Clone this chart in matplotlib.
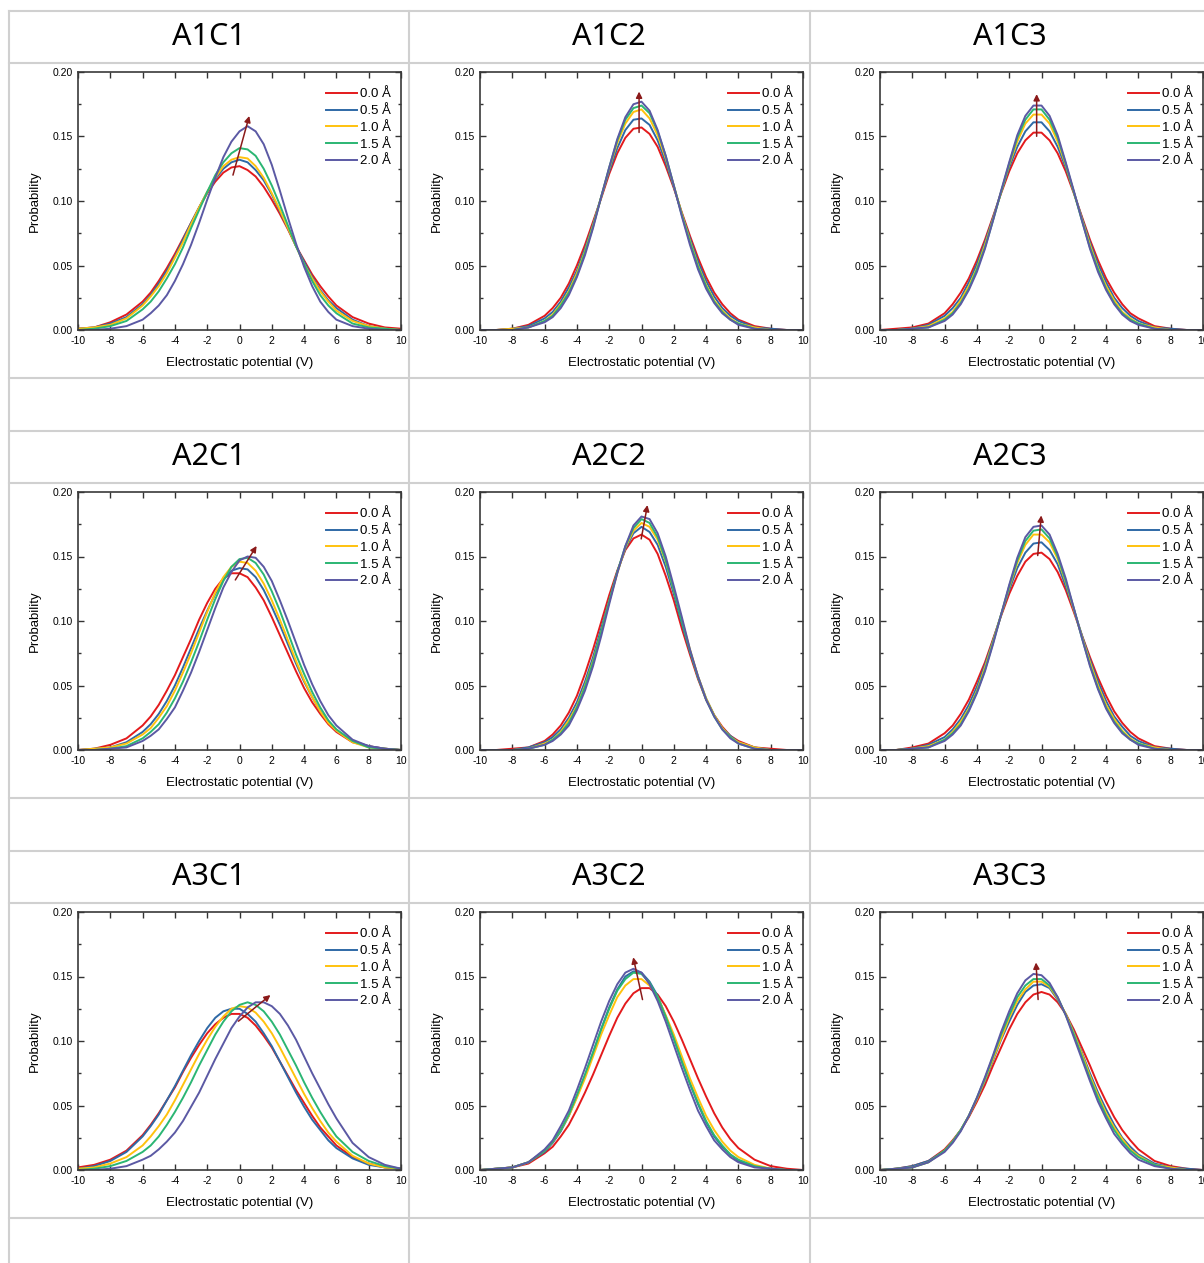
import matplotlib.pyplot as plt
from matplotlib.lines import Line2D
from matplotlib.ticker import MultipleLocator, FormatStrFormatter

W, H = 1204, 1263

titles = ['A1C1', 'A1C2', 'A1C3', 'A2C1', 'A2C2', 'A2C3', 'A3C1', 'A3C2', 'A3C3']
labels = ['0.0 Å', '0.5 Å', '1.0 Å', '1.5 Å', '2.0 Å']
colors = ['#e31a1c', '#2f69a6', '#ffc20e', '#2bb673', '#5b59a4']

# electrostatic potential (V) where the curves were read
pot = [-10, -9, -8, -7, -6, -5.5, -5, -4.5, -4, -3.5, -3, -2.5, -2, -1.5, -1, -0.5, 0,
       0.5, 1, 1.5, 2, 2.5, 3, 3.5, 4, 4.5, 5, 5.5, 6, 7, 8, 9, 10]

# probability x 1000, one row per spacing (0.0 .. 2.0 A)
a1c1 = [
    [1, 2, 6, 12, 22, 29, 38, 48, 59, 71, 83, 95, 106, 115, 122, 126, 127, 124, 119, 111, 101, 90, 78, 65, 54, 43, 34, 26, 19, 10, 5, 2, 1],
    [1, 2, 5, 10, 20, 27, 36, 46, 57, 70, 83, 95, 107, 117, 125, 130, 132, 130, 124, 116, 105, 92, 79, 65, 53, 41, 31, 23, 17, 8, 3, 1, 0],
    [1, 2, 4, 9, 19, 26, 34, 44, 56, 68, 82, 95, 107, 118, 127, 132, 134, 133, 127, 118, 106, 93, 79, 65, 51, 40, 30, 22, 15, 7, 3, 1, 0],
    [0, 1, 3, 7, 16, 22, 30, 40, 51, 64, 79, 93, 107, 120, 130, 137, 141, 140, 135, 125, 112, 97, 81, 65, 51, 38, 27, 19, 13, 5, 2, 1, 0],
    [0, 0, 1, 3, 8, 13, 19, 27, 38, 51, 66, 83, 101, 118, 134, 146, 154, 158, 154, 144, 128, 108, 87, 67, 49, 34, 22, 14, 8, 3, 1, 0, 0],
]
a1c2 = [
    [0, 0, 1, 4, 11, 17, 25, 36, 50, 66, 84, 102, 121, 137, 149, 156, 157, 152, 142, 127, 110, 91, 73, 56, 41, 29, 20, 13, 8, 3, 1, 0, 0],
    [0, 0, 1, 3, 9, 14, 22, 33, 46, 63, 82, 103, 123, 141, 155, 163, 164, 159, 147, 130, 111, 90, 71, 53, 38, 26, 17, 11, 7, 2, 1, 0, 0],
    [0, 0, 1, 2, 7, 12, 20, 30, 44, 61, 81, 103, 125, 145, 160, 169, 171, 164, 151, 133, 112, 90, 69, 50, 35, 23, 15, 9, 5, 2, 0, 0, 0],
    [0, 0, 0, 2, 7, 11, 19, 29, 42, 60, 80, 103, 126, 147, 163, 172, 174, 168, 154, 135, 112, 89, 68, 49, 34, 22, 14, 8, 5, 1, 0, 0, 0],
    [0, 0, 0, 2, 6, 10, 17, 27, 41, 58, 79, 103, 126, 148, 165, 175, 177, 170, 155, 135, 112, 88, 66, 47, 32, 21, 13, 8, 4, 1, 0, 0, 0],
]
a1c3 = [
    [0, 1, 2, 5, 13, 20, 29, 40, 54, 70, 88, 106, 123, 137, 147, 153, 153, 147, 137, 123, 106, 88, 70, 54, 40, 29, 20, 13, 9, 3, 1, 0, 0],
    [0, 0, 1, 4, 11, 17, 25, 37, 51, 68, 87, 107, 126, 142, 154, 161, 161, 154, 142, 126, 107, 87, 68, 51, 37, 25, 17, 11, 7, 2, 1, 0, 0],
    [0, 0, 1, 3, 9, 14, 23, 34, 48, 66, 86, 107, 128, 146, 160, 167, 167, 160, 146, 128, 107, 86, 66, 48, 34, 23, 14, 9, 5, 2, 0, 0, 0],
    [0, 0, 1, 2, 8, 13, 21, 32, 47, 64, 85, 107, 129, 149, 163, 171, 171, 163, 149, 129, 107, 85, 64, 47, 32, 21, 13, 8, 5, 1, 0, 0, 0],
    [0, 0, 1, 2, 7, 12, 20, 31, 45, 63, 85, 108, 130, 151, 166, 174, 174, 166, 151, 130, 108, 85, 63, 45, 31, 20, 12, 7, 4, 1, 0, 0, 0],
]
a2c1 = [
    [0, 1, 4, 9, 19, 26, 35, 46, 58, 72, 86, 101, 114, 125, 133, 137, 137, 134, 126, 116, 103, 89, 75, 61, 48, 37, 28, 20, 14, 6, 3, 1, 0],
    [0, 1, 2, 6, 14, 20, 28, 38, 50, 64, 79, 94, 108, 121, 132, 139, 141, 140, 134, 124, 111, 97, 82, 67, 53, 41, 30, 22, 15, 7, 3, 1, 0],
    [0, 1, 2, 5, 12, 17, 25, 34, 46, 60, 75, 91, 107, 122, 134, 142, 146, 145, 139, 129, 116, 101, 85, 69, 54, 41, 30, 21, 15, 6, 2, 1, 0],
    [0, 0, 1, 3, 9, 14, 20, 29, 40, 53, 68, 84, 101, 117, 131, 142, 148, 149, 145, 136, 123, 108, 91, 74, 59, 45, 33, 23, 16, 7, 2, 1, 0],
    [0, 0, 1, 2, 7, 11, 16, 24, 33, 46, 60, 76, 93, 110, 126, 138, 147, 150, 149, 142, 131, 116, 100, 83, 66, 51, 38, 27, 19, 8, 3, 1, 0],
]
a2c2 = [
    [0, 0, 1, 2, 7, 12, 19, 29, 42, 59, 78, 99, 120, 139, 155, 164, 167, 163, 152, 135, 116, 94, 74, 55, 39, 27, 18, 11, 7, 2, 1, 0, 0],
    [0, 0, 0, 2, 6, 10, 16, 25, 37, 53, 72, 94, 116, 138, 156, 168, 173, 169, 159, 142, 121, 98, 76, 57, 40, 27, 17, 11, 6, 2, 0, 0, 0],
    [0, 0, 0, 1, 5, 8, 14, 23, 34, 50, 69, 91, 115, 137, 157, 170, 176, 173, 163, 146, 124, 101, 78, 57, 40, 27, 17, 10, 6, 2, 0, 0, 0],
    [0, 0, 0, 1, 4, 8, 13, 21, 33, 49, 68, 91, 115, 138, 158, 172, 179, 176, 165, 147, 124, 100, 77, 56, 39, 26, 16, 10, 5, 1, 0, 0, 0],
    [0, 0, 0, 1, 4, 7, 12, 19, 31, 46, 65, 88, 113, 137, 158, 174, 181, 179, 168, 150, 127, 103, 78, 57, 39, 26, 16, 9, 5, 1, 0, 0, 0],
]
a2c3 = [
    [0, 0, 2, 5, 13, 19, 28, 39, 53, 68, 86, 104, 121, 135, 146, 152, 153, 148, 138, 124, 107, 89, 72, 56, 42, 30, 21, 14, 9, 3, 1, 0, 0],
    [0, 0, 1, 4, 10, 16, 24, 35, 49, 66, 85, 105, 124, 141, 153, 160, 161, 155, 144, 127, 109, 89, 70, 53, 38, 26, 18, 11, 7, 2, 1, 0, 0],
    [0, 0, 1, 3, 8, 14, 22, 32, 46, 64, 84, 105, 126, 145, 159, 167, 167, 161, 148, 130, 109, 88, 68, 50, 35, 24, 15, 9, 5, 2, 0, 0, 0],
    [0, 0, 1, 2, 8, 13, 20, 31, 45, 62, 83, 105, 127, 147, 162, 170, 171, 164, 150, 131, 110, 87, 66, 48, 33, 22, 14, 8, 5, 1, 0, 0, 0],
    [0, 0, 1, 2, 7, 12, 19, 30, 44, 61, 82, 105, 128, 149, 165, 173, 174, 167, 152, 133, 110, 87, 65, 47, 32, 21, 13, 8, 4, 1, 0, 0, 0],
]
a3c1 = [
    [2, 4, 8, 15, 27, 35, 44, 54, 64, 76, 87, 97, 106, 113, 118, 121, 121, 118, 112, 104, 95, 84, 73, 62, 52, 42, 33, 26, 19, 10, 5, 2, 1],
    [1, 3, 7, 14, 26, 34, 43, 54, 65, 77, 89, 100, 110, 118, 123, 125, 125, 121, 115, 106, 96, 84, 72, 60, 49, 39, 31, 23, 17, 9, 4, 2, 1],
    [1, 2, 5, 10, 19, 26, 34, 43, 54, 66, 78, 90, 101, 111, 119, 125, 127, 126, 122, 115, 106, 95, 83, 71, 59, 48, 38, 29, 22, 11, 5, 2, 1],
    [0, 1, 3, 7, 14, 19, 26, 35, 45, 56, 68, 81, 93, 105, 115, 123, 128, 130, 128, 123, 115, 105, 93, 81, 68, 56, 45, 35, 26, 14, 7, 3, 1],
    [0, 0, 1, 3, 8, 11, 16, 22, 29, 38, 49, 60, 73, 86, 98, 110, 119, 126, 130, 130, 127, 121, 112, 101, 88, 75, 63, 51, 40, 21, 10, 4, 1],
]
a3c2 = [
    [0, 1, 2, 5, 13, 18, 26, 35, 47, 60, 74, 89, 104, 118, 129, 137, 141, 141, 136, 127, 115, 101, 86, 71, 57, 44, 33, 24, 17, 8, 3, 1, 0],
    [0, 1, 2, 6, 14, 21, 30, 42, 57, 73, 91, 109, 126, 140, 150, 154, 153, 146, 135, 119, 102, 84, 67, 51, 37, 26, 18, 12, 7, 3, 1, 0, 0],
    [0, 1, 2, 6, 15, 22, 31, 42, 56, 71, 88, 105, 120, 134, 143, 148, 148, 143, 134, 120, 105, 88, 71, 56, 42, 31, 22, 15, 10, 4, 1, 0, 0],
    [0, 1, 2, 6, 15, 22, 31, 43, 58, 74, 91, 109, 125, 139, 148, 153, 152, 145, 134, 119, 102, 84, 67, 52, 38, 27, 19, 12, 8, 3, 1, 0, 0],
    [0, 1, 2, 6, 16, 23, 34, 46, 62, 79, 97, 115, 131, 144, 153, 156, 153, 144, 131, 115, 97, 79, 62, 46, 34, 23, 16, 10, 6, 2, 1, 0, 0],
]
a3c3 = [
    [0, 1, 3, 7, 16, 23, 31, 41, 53, 66, 81, 95, 109, 121, 130, 136, 138, 136, 130, 121, 109, 95, 81, 66, 53, 41, 31, 23, 16, 7, 3, 1, 0],
    [0, 1, 3, 7, 15, 22, 31, 42, 55, 69, 85, 101, 115, 128, 138, 143, 144, 141, 132, 121, 107, 91, 75, 60, 47, 35, 25, 18, 12, 5, 2, 1, 0],
    [0, 1, 2, 6, 15, 22, 31, 42, 55, 70, 86, 102, 118, 131, 140, 146, 146, 142, 133, 121, 106, 90, 73, 58, 44, 33, 24, 16, 11, 4, 2, 0, 0],
    [0, 1, 2, 6, 15, 22, 31, 42, 56, 71, 88, 105, 120, 134, 143, 148, 148, 143, 134, 120, 105, 88, 71, 56, 42, 31, 22, 15, 10, 4, 1, 0, 0],
    [0, 1, 2, 6, 14, 21, 30, 42, 56, 72, 89, 107, 123, 137, 147, 152, 151, 145, 134, 120, 103, 86, 69, 53, 40, 28, 20, 13, 8, 3, 1, 0, 0],
]
panels = [a1c1, a1c2, a1c3, a2c1, a2c2, a2c3, a3c1, a3c2, a3c3]

# trend arrows: (start potential, start prob) -> (end potential, end prob)
arrows = [
    [(-0.45, 0.118), (0.65, 0.168)],
    [(-0.15, 0.151), (-0.15, 0.187)],
    [(-0.3, 0.148), (-0.3, 0.185)],
    [(-0.35, 0.130), (1.15, 0.160)],
    [(-0.05, 0.1615), (0.4, 0.192)],
    [(-0.25, 0.1486), (0.0, 0.184)],
    [(-0.2, 0.114), (2.05, 0.137)],
    [(0.1, 0.130), (-0.55, 0.167)],
    [(-0.2, 0.130), (-0.35, 0.163)],
]

plt.rcParams['font.family'] = ['Liberation Sans', 'DejaVu Sans']
plt.rcParams['axes.unicode_minus'] = False
fig = plt.figure(figsize=(W / 100, H / 100), dpi=100)

# table lines
grid_c = '#d0d0d0'
for y in [11, 63, 378, 431, 483, 798, 851, 903, 1218]:
    fig.add_artist(Line2D([9 / W, 1], [1 - y / H, 1 - y / H], color=grid_c, lw=1.5))
for x in [9, 409, 810]:
    fig.add_artist(Line2D([x / W, x / W], [1 - 11 / H, 0], color=grid_c, lw=1.5))

lefts = [78, 480, 880]
tops = [72, 492, 912]
tcent = [209, 609, 1010]
trow = [37, 457, 877]

for i in range(9):
    r, c = divmod(i, 3)
    fig.text(tcent[c] / W, 1 - trow[r] / H, titles[i], ha='center', va='center',
             fontsize=22, family='Noto Sans')
    ax = fig.add_axes([lefts[c] / W, 1 - (tops[r] + 258) / H, 323 / W, 258 / H])
    for k in range(5):
        ax.plot(pot, [v / 1000 for v in panels[i][k]], color=colors[k], lw=1.4,
                solid_joinstyle='round', label=labels[k])
    (x0, y0), (x1, y1) = arrows[i]
    ax.annotate('', xy=(x1, y1), xytext=(x0, y0),
                arrowprops=dict(arrowstyle='-|>', color='#8b1a1a', lw=1.1, mutation_scale=9))
    ax.set_xlim(-10, 10)
    ax.set_ylim(0, 0.2)
    ax.xaxis.set_major_locator(MultipleLocator(2))
    ax.yaxis.set_major_locator(MultipleLocator(0.05))
    ax.yaxis.set_minor_locator(MultipleLocator(0.025))
    ax.yaxis.set_major_formatter(FormatStrFormatter('%.2f'))
    ax.tick_params(which='both', direction='in', top=True, right=True, labelsize=7.5,
                   color='#333333', width=1)
    ax.tick_params(which='major', length=4)
    ax.tick_params(which='minor', length=2.5)
    ax.tick_params(axis='x', pad=4)
    ax.tick_params(axis='y', pad=3.5)
    for s in ax.spines.values():
        s.set_color('#3a3a3a')
        s.set_linewidth(1.2)
    ax.set_xlabel('Electrostatic potential (V)', fontsize=9.5, labelpad=8)
    ax.set_ylabel('Probability', fontsize=9.5, labelpad=8.5)
    ax.legend(loc='upper right', bbox_to_anchor=(1 + 5 / 323, 1 - 1 / 258), frameon=False,
              fontsize=9.5, handlelength=2.4, labelspacing=0.34, handletextpad=0.2,
              borderaxespad=0.75)

fig.savefig('out.png', dpi=100)
